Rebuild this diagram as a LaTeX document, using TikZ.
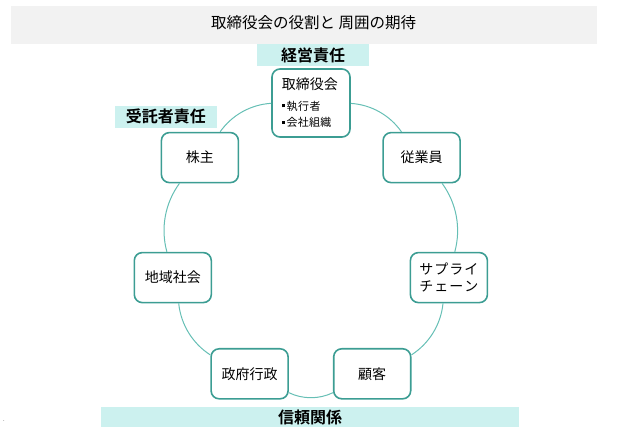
\documentclass[tikz,border=0pt]{standalone}
\usepackage{fontspec}
\newfontfamily\jp{Noto Sans CJK JP}[BoldFont={Noto Sans CJK JP Bold}]
\definecolor{nodeteal}{HTML}{3C9D93}
\definecolor{ringteal}{HTML}{66BFB5}
\definecolor{tagfill}{HTML}{CCF1EF}
\definecolor{barfill}{HTML}{F2F2F2}
\begin{document}
\begin{tikzpicture}[x=1pt,y=-1pt,
  actor/.style={draw=nodeteal, line width=1.6pt, rounded corners=8pt, fill=white,
    minimum width=77pt, minimum height=50pt, align=center, inner sep=0pt,
    font=\jp\fontsize{14}{17}\selectfont},
  tag/.style={fill=tagfill, inner sep=0pt, font=\jp\bfseries\fontsize{16}{18}\selectfont},
  ringline/.style={draw=ringteal, line width=1pt, bend left=25.7, looseness=0.9},
  itemtext/.style={anchor=west, inner sep=0pt, font=\jp\fontsize{11}{13}\selectfont}]
\useasboundingbox (0,0) rectangle (629,427);
% title bar
\node[fill=barfill, minimum width=586pt, minimum height=37.7pt, inner sep=0pt, anchor=north west] (bar) at (11,6) {};
\node[inner sep=0pt, font=\jp\fontsize{15.5}{18}\selectfont] (title) at (313.7,22.8) {取締役会の役割と 周囲の期待};
% tags
\node[tag, minimum width=112pt, minimum height=21.4pt] (keiei) at (313,55) {経営責任};
\node[tag, minimum width=102.3pt, minimum height=22pt] (jutaku) at (165.9,116.7) {受託者責任};
\node[tag, minimum width=418pt, minimum height=21pt, anchor=north] (shinrai) at (310,406.7) {信頼関係};
% nodes
\node[actor, minimum width=78pt, minimum height=68pt] (board) at (311,103) {};
\node[inner sep=0pt, font=\jp\fontsize{14}{17}\selectfont] (boardt) at (309.8,84.2) {取締役会};
\node[itemtext] (item1) at (281.3,106) {\rule[2.7pt]{3pt}{3pt}\hspace{2pt}執\kern0.6pt 行\kern0.6pt 者};
\node[itemtext] (item2) at (281.3,122.3) {\rule[2.7pt]{3pt}{3pt}\hspace{2pt}会\kern0.3pt 社\kern0.3pt 組\kern0.3pt 織};
\node[actor] (emp) at (421.6,157.6) {従業員};
\node[actor] (supply) at (448.9,277.6) {サ\kern1pt プ\kern1pt ラ\kern1pt イ\\チ\kern1pt ェ\kern1pt ー\kern1pt ン};
\node[actor] (cust) at (372.2,373.8) {顧客};
\node[actor] (gov) at (249.6,373.8) {政府行政};
\node[actor] (comm) at (172.8,277.6) {地域社会};
\node[actor] (share) at (199.9,157.6) {株主};
% ring
\draw[ringline] (board) to (emp);
\draw[ringline] (emp) to (supply);
\draw[ringline] (supply) to (cust);
\draw[ringline] (cust) to (gov);
\draw[ringline] (gov) to (comm);
\draw[ringline] (comm) to (share);
\draw[ringline] (share) to (board);
% stray mark
\node[inner sep=0pt, font=\fontsize{6}{6}\selectfont] (dot) at (4,421) {.};
\end{tikzpicture}
\end{document}
